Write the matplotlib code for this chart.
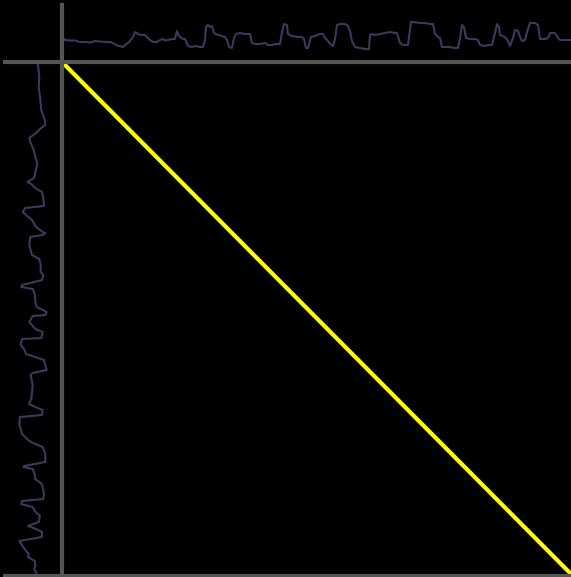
import numpy as np
import matplotlib
matplotlib.use("Agg")
import matplotlib.pyplot as plt
from matplotlib.lines import Line2D

# series on top (sample index, value)
t_top = [0, 3, 8, 13, 18, 23, 28, 33, 38, 43,
         48, 53, 56, 58, 61, 63, 66, 68, 71, 73,
         76, 80, 83, 86, 88, 91, 95, 98, 101, 103,
         106, 110, 113, 115, 117, 121, 123, 126, 130, 133,
         138, 141, 143, 144, 146, 148, 150, 152, 156, 160,
         163, 165, 167, 170, 172, 174, 178, 183, 188, 190,
         193, 198, 203, 206, 210, 213, 218, 220, 222, 225,
         226, 230, 236, 240, 242, 244, 246, 248, 249, 253,
         258, 261, 263, 266, 268, 271, 273, 275, 278, 283,
         286, 288, 290, 293, 298, 303, 307, 308, 310, 313,
         318, 323, 328, 333, 335, 338, 341, 346, 348, 349,
         351, 358, 363, 368, 371, 373, 376, 378, 380, 383,
         388, 393, 396, 398, 400, 402, 404, 408, 413, 416,
         418, 423, 426, 430, 433, 435, 437, 438, 443, 446,
         448, 451, 453, 456, 458, 460, 463, 465, 468, 473,
         476, 478, 483, 486, 488, 493, 496, 498, 503, 509]
v_top = [13, 10, 9.5, 9.5, 8, 8, 7.5, 9, 8.5, 8,
         8, 6, 4, 4, 3, 5, 7, 9, 13, 18,
         16, 15, 15, 12, 10, 8, 8, 10, 11, 9.5,
         10, 11, 11, 19, 14, 11, 11, 4, 3, 4,
         3, 3, 10, 23, 25, 23, 24, 17, 15, 14,
         13, 10, 3, 2, 12, 16, 17, 16, 16, 7,
         6, 6, 7, 5, 5, 6, 6, 18, 26, 25,
         16, 14, 13, 13, 11, 2, 2, 10, 13, 14,
         16, 16, 12, 9, 6, 4, 11, 25, 26, 26,
         24, 19, 9, 3, 2, 1, 1, 15, 16, 15,
         16, 17, 18, 17, 17, 7, 5, 5, 20, 28,
         28, 27, 27, 26, 26, 16, 13, 12, 3, 3,
         3, 2, 2, 12, 25, 23, 12, 11, 11, 10,
         5, 4, 5, 5, 17, 26, 23, 15, 13, 9,
         4, 12, 20, 19, 13, 9, 10, 18, 27, 27,
         25, 11, 11, 12, 17, 17, 12, 10, 10, 10]

# series on the left (sample index, value)
t_left = [3, 15, 25, 35, 48, 58, 63, 66, 72, 76,
          80, 88, 95, 101, 108, 116, 120, 122, 126, 130,
          136, 144, 146, 150, 153, 158, 165, 170, 171, 173,
          175, 183, 193, 197, 203, 210, 213, 218, 223, 225,
          227, 232, 240, 245, 250, 253, 254, 260, 267, 270,
          276, 277, 283, 288, 292, 295, 298, 303, 308, 311,
          313, 323, 330, 337, 342, 345, 348, 353, 355, 362,
          372, 379, 382, 385, 392, 400, 404, 405, 407, 412,
          417, 422, 432, 437, 439, 442, 445, 449, 454, 460,
          464, 467, 470, 475, 479, 482, 487, 492, 495, 499,
          504, 507, 510, 514]
v_left = [10, 8.7, 9.3, 8, 6.7, 3.3, 2.7, 6.7, 13.3, 18.7,
          17.7, 14.3, 12.7, 10.7, 12, 14, 20.7, 16.7, 12.7, 6,
          4.7, 4, 22.7, 25.3, 22, 16, 12, 5.3, 2.7, 5.3,
          17.7, 18.7, 16, 8.7, 7.3, 7.3, 4.7, 6, 26, 26.7,
          15.3, 13.3, 12.7, 11.3, 1.3, 2.7, 15.3, 18.7, 12.7, 5.3,
          6.7, 26, 27.3, 23.3, 22, 12.7, 4, 2.7, 1.3, 15.3,
          17.3, 15.3, 16, 16.7, 19, 12.7, 5.3, 6, 28, 28.7,
          26, 18.7, 12.7, 5.3, 2.7, 2.7, 24, 24.7, 15.3, 13.3,
          12.7, 6, 4, 4.7, 26, 26.7, 15.3, 13.3, 8, 9.3,
          20, 12, 6, 6, 28.7, 26.7, 23.3, 19.3, 20, 13.3,
          12.7, 14, 12, 11.3]

# warping path (both series aligned one to one)
n = 510
path_i = np.arange(n)
path_j = np.arange(n)

W, H = 571, 577
fig = plt.figure(figsize=(W / 100, H / 100), dpi=100, facecolor='black')

def box(x0, y0, x1, y1):
    # pixel box (from top left) -> figure fractions
    return [x0 / W, 1 - y1 / H, (x1 - x0) / W, (y1 - y0) / H]

line_col = '#3a3a5e'
grey = '#555555'

# top series
ax_top = fig.add_axes(box(62, 5, 571, 60))
ax_top.plot(t_top, v_top, color=line_col, lw=1.5)
ax_top.set_xlim(0, n - 1)
ax_top.set_ylim(-10, 45)
ax_top.axis('off')

# left series
ax_left = fig.add_axes(box(5, 62, 60, 577))
ax_left.plot([-v for v in v_left], t_left, color=line_col, lw=1.5)
ax_left.set_xlim(-43, 12)
ax_left.set_ylim(515, 0)
ax_left.axis('off')

# warping path
ax = fig.add_axes(box(62, 62, 571, 574))
ax.set_facecolor('black')
ax.plot(path_j, path_i, color='#ffff00', lw=3, clip_on=False, solid_capstyle='butt')
ax.set_xlim(0, n - 1)
ax.set_ylim(n - 1, 0)
ax.axis('off')

# separator lines
fig.add_artist(Line2D([5 / W, 1], [1 - 62 / H, 1 - 62 / H], color=grey, lw=3))
fig.add_artist(Line2D([62 / W, 62 / W], [1 - 5 / H, 0], color=grey, lw=3))
fig.add_artist(Line2D([5 / W, 1], [1 - 575.5 / H, 1 - 575.5 / H], color=grey, lw=3))

fig.savefig('out.png', dpi=100, facecolor='black')
